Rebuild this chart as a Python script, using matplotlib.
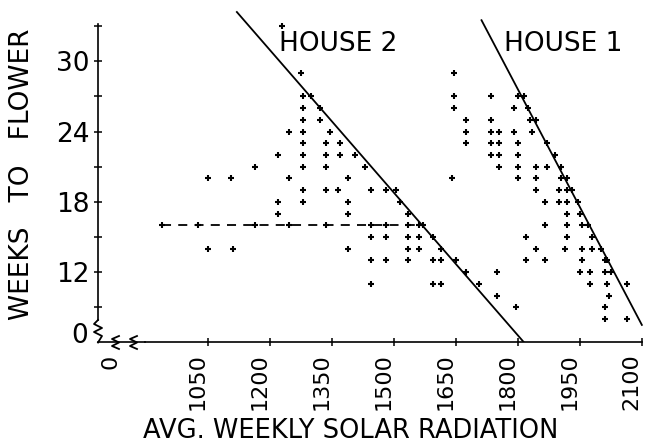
import matplotlib

matplotlib.use("Agg")
import matplotlib.pyplot as plt  # noqa: E402
from matplotlib.lines import Line2D  # noqa: E402

W, H = 650, 444

# House 2 (left cluster): avg weekly solar radiation, weeks to flower
h2_rad = [1230,
          1275,
          1280, 1300,
          1280, 1320,
          1280, 1320,
          1245, 1280, 1345,
          1280, 1335, 1370,
          1220, 1280, 1335, 1370, 1405,
          1165, 1280, 1335, 1430,
          1050, 1105, 1245, 1390,
          1280, 1335, 1365, 1445, 1480, 1505,
          1220, 1280, 1390, 1515,
          1220, 1390, 1535,
          940, 1025, 1165, 1245, 1335, 1445, 1480, 1535, 1560, 1570,
          1445, 1480, 1535, 1560, 1595,
          1050, 1110, 1390, 1535, 1560, 1615,
          1445, 1480, 1535, 1595, 1615, 1650,
          1675, 1750,
          1445, 1595, 1615, 1705,
          1750,
          1795]
h2_weeks = [33,
            29,
            27, 27,
            26, 26,
            25, 25,
            24, 24, 24,
            23, 23, 23,
            22, 22, 22, 22, 22,
            21, 21, 21, 21,
            20, 20, 20, 20,
            19, 19, 19, 19, 19, 19,
            18, 18, 18, 18,
            17, 17, 17,
            16, 16, 16, 16, 16, 16, 16, 16, 16, 16,
            15, 15, 15, 15, 15,
            14, 14, 14, 14, 14, 14,
            13, 13, 13, 13, 13, 13,
            12, 12,
            11, 11, 11, 11,
            10,
            9]

# House 1 (right cluster)
h1_rad = [1645,
          1645, 1735, 1800, 1815,
          1645, 1790, 1825,
          1675, 1735, 1830, 1845,
          1675, 1735, 1755, 1790, 1835,
          1675, 1735, 1755, 1800, 1870,
          1735, 1755, 1800, 1890,
          1755, 1800, 1845, 1870, 1905,
          1640, 1800, 1845, 1905, 1920,
          1845, 1900, 1920, 1930,
          1865, 1900, 1920, 1945,
          1920, 1950,
          1865, 1920, 1955, 1970,
          1820, 1920, 1980,
          1845, 1915, 1955, 1980, 2000,
          1820, 1865, 1955, 2010, 2015,
          1950, 1975, 2010, 2025,
          1975, 2015, 2065,
          2020,
          2010,
          2010, 2065]
h1_weeks = [29,
            27, 27, 27, 27,
            26, 26, 26,
            25, 25, 25, 25,
            24, 24, 24, 24, 24,
            23, 23, 23, 23, 23,
            22, 22, 22, 22,
            21, 21, 21, 21, 21,
            20, 20, 20, 20, 20,
            19, 19, 19, 19,
            18, 18, 18, 18,
            17, 17,
            16, 16, 16, 16,
            15, 15, 15,
            14, 14, 14, 14, 14,
            13, 13, 13, 13, 13,
            12, 12, 12, 12,
            11, 11, 11,
            10,
            9,
            8, 8]

# fitted boundary lines (radiation, weeks)
h2_line_rad = [1120, 1815]
h2_line_weeks = [34.2, 6.0]
h1_line_rad = [1712, 2100]
h1_line_weeks = [33.5, 7.5]

# dashed reference line for House 2
dash_rad = [940, 1555]
dash_weeks = [16, 16]

x_ticks = [1050, 1200, 1350, 1500, 1650, 1800, 1950, 2100]
y_ticks = [9, 12, 15, 18, 21, 24, 27, 30, 33]
y_labels = ["", "12", "", "18", "", "24", "", "30", ""]

plt.rcParams["font.family"] = "DejaVu Sans"


def px(x, y):
    """pixel position in the 650x444 image -> figure fraction"""
    return x / W, 1 - y / H


fig = plt.figure(figsize=(W / 100, H / 100), dpi=100)
ax = fig.add_axes([98 / W, 1 - 342.5 / H, 548 / W, 334 / H])
ax.set_xlim(784, 2110)
ax.set_ylim(6, 34.5)

ax.plot(h2_rad, h2_weeks, "+", color="black", ms=5, mew=1.5)
ax.plot(h1_rad, h1_weeks, "+", color="black", ms=5, mew=1.5)
ax.plot(h2_line_rad, h2_line_weeks, color="black", lw=1.3)
ax.plot(h1_line_rad, h1_line_weeks, color="black", lw=1.3)
ax.plot(dash_rad, dash_weeks, color="black", lw=1.3, ls=(0, (5, 4)))

for s in ["top", "right"]:
    ax.spines[s].set_visible(False)
ax.spines["left"].set_bounds(7.9, 33.2)
ax.spines["bottom"].set_bounds(898, 2100)
ax.spines["left"].set_linewidth(1.2)
ax.spines["bottom"].set_linewidth(1.2)

ax.set_xticks(x_ticks)
ax.set_xticklabels([str(t) for t in x_ticks], rotation=90, ha="right", va="top")
ax.set_yticks(y_ticks)
ax.set_yticklabels(y_labels)
ax.tick_params(axis="both", direction="inout", length=6, width=1.1,
               labelsize=19)
ax.tick_params(axis="x", pad=5, labelsize=16)
ax.tick_params(axis="y", pad=3)

# axis-break marks near the origin
o = px(98, 342.5)
zig_y = [px(98, 320), px(94, 324), px(102, 328), px(94, 332), px(102, 336),
         px(98, 342.5)]
fig.add_artist(Line2D([p[0] for p in zig_y], [p[1] for p in zig_y],
                      color="black", lw=1.3))
for x0 in (112, 130):
    pts = [px(x0 + 7, 336), px(x0, 339), px(x0 + 7, 342.5), px(x0, 346),
           px(x0 + 7, 349)]
    fig.add_artist(Line2D([p[0] for p in pts], [p[1] for p in pts],
                          color="black", lw=1.3))
stub = [o, px(145, 342.5)]
fig.add_artist(Line2D([p[0] for p in stub], [p[1] for p in stub],
                      color="black", lw=1.2))

fig.text(*px(88, 336), "0", fontsize=19, ha="right", va="center")
fig.text(*px(110, 362), "0", fontsize=16, rotation=90, ha="center",
         va="center")

fig.text(*px(279, 44), "HOUSE 2", fontsize=19, ha="left", va="center")
fig.text(*px(504, 44), "HOUSE 1", fontsize=19, ha="left", va="center")

fig.text(*px(351, 431), "AVG. WEEKLY SOLAR RADIATION", fontsize=18.5,
         ha="center", va="center")
fig.text(*px(22, 174), "WEEKS   TO   FLOWER", fontsize=19, rotation=90,
         ha="center", va="center")

fig.savefig("out.png", dpi=100)
